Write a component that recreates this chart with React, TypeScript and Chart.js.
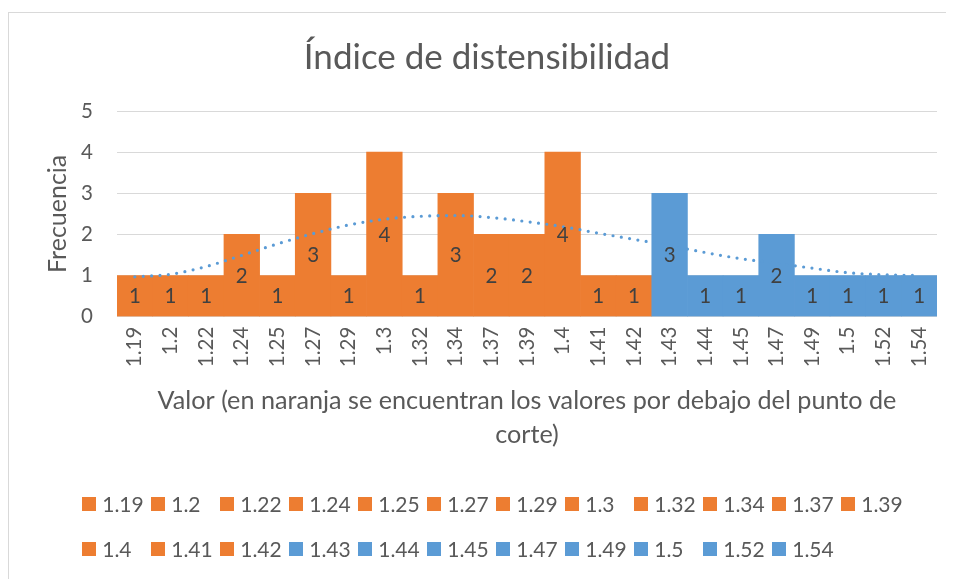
import React, { useEffect, useRef } from "react";
import { Chart, registerables } from "chart.js";

Chart.register(...registerables);

const categories = ["1.19", "1.2", "1.22", "1.24", "1.25", "1.27", "1.29", "1.3", "1.32", "1.34", "1.37", "1.39", "1.4", "1.41", "1.42", "1.43", "1.44", "1.45", "1.47", "1.49", "1.5", "1.52", "1.54"];
const frequencies = [1, 1, 1, 2, 1, 3, 1, 4, 1, 3, 2, 2, 4, 1, 1, 3, 1, 1, 2, 1, 1, 1, 1];
const trendValues = [0.97, 1.03, 1.22, 1.49, 1.77, 2.02, 2.23, 2.37, 2.44, 2.46, 2.41, 2.31, 2.19, 2.03, 1.88, 1.73, 1.56, 1.41, 1.3, 1.18, 1.07, 1.02, 1.0];
const cutoffValue = 1.43;
const yTickValues = [0, 1, 2, 3, 4, 5];

const ORANGE = "#ED7D31";
const BLUE = "#5B9BD5";
const TEXT = "#595959";
const FONT = "Lato, 'Open Sans', sans-serif";

const barColors = categories.map((c) => (parseFloat(c) < cutoffValue ? ORANGE : BLUE));

const dataLabelPlugin = {
  id: "barValueLabels",
  afterDatasetsDraw(chart: any) {
    const idx = chart.data.datasets.findIndex((d: any) => d.type === "bar");
    const meta = chart.getDatasetMeta(idx);
    const values = chart.data.datasets[idx].data;
    const ctx = chart.ctx;
    ctx.save();
    ctx.font = `20.5px ${FONT}`;
    ctx.fillStyle = "#404040";
    ctx.textAlign = "center";
    ctx.textBaseline = "middle";
    meta.data.forEach((el: any, i: number) => {
      const p = el.getProps(["x", "y", "base"], true);
      ctx.fillText(String(values[i]), p.x, (p.y + p.base) / 2 + 1);
    });
    ctx.restore();
  },
};

const gridLegendPlugin = {
  id: "gridLegend",
  afterDraw(chart: any) {
    const ctx = chart.ctx;
    const perRow = 12;
    const startX = 73;
    const pitch = 69;
    const rowY = [491, 536];
    const box = 14;
    ctx.save();
    ctx.font = `21px ${FONT}`;
    ctx.textBaseline = "middle";
    ctx.textAlign = "left";
    categories.forEach((c, i) => {
      const row = Math.floor(i / perRow);
      const col = i % perRow;
      const x = startX + col * pitch;
      const y = rowY[row];
      ctx.fillStyle = barColors[i];
      ctx.fillRect(x, y - box / 2, box, box);
      ctx.fillStyle = TEXT;
      ctx.fillText(c, x + box + 6.2, y + 1.5);
    });
    ctx.restore();
  },
};

export default function App() {
  const canvasRef = useRef<HTMLCanvasElement | null>(null);

  useEffect(() => {
    document.documentElement.style.overflow = "hidden";
    document.body.style.overflow = "hidden";
    const canvas = canvasRef.current;
    if (!canvas) return;
    const chart = new Chart(canvas, {
      type: "bar",
      data: {
        labels: categories,
        datasets: [
          {
            type: "line",
            label: "Tendencia",
            data: trendValues,
            borderColor: BLUE,
            borderWidth: 3.2,
            borderDash: [0, 8.4],
            borderCapStyle: "round",
            tension: 0.4,
            cubicInterpolationMode: "monotone",
            pointRadius: 0,
            fill: false,
            order: 1,
          } as any,
          {
            type: "bar",
            label: "Frecuencia",
            data: frequencies,
            backgroundColor: barColors,
            borderWidth: 0,
            categoryPercentage: 1,
            barPercentage: 1,
            order: 2,
          } as any,
        ],
      },
      options: {
        responsive: false,
        animation: false,
        devicePixelRatio: 1,
        layout: { padding: { left: 28, right: 30, top: 0, bottom: 127.6 } },
        plugins: {
          legend: { display: false },
          tooltip: { enabled: false },
          title: {
            display: true,
            text: "Índice de distensibilidad",
            color: TEXT,
            font: { family: FONT, size: 35, weight: "normal", lineHeight: 1.2 },
            padding: { top: 24, bottom: 32 },
          },
        },
        scales: {
          x: {
            grid: { display: false, drawTicks: false },
            border: { display: false },
            ticks: {
              color: TEXT,
              font: { family: FONT, size: 20.5 },
              minRotation: 90,
              maxRotation: 90,
              autoSkip: false,
              padding: 10,
            },
            title: {
              display: true,
              text: ["Valor (en naranja se encuentran los valores por debajo del punto de", "corte)"],
              color: TEXT,
              font: { family: FONT, size: 25.2, lineHeight: "33.4px" },
              padding: { top: 0, bottom: 0 },
            },
            afterFit: (scale: any) => {
              scale.height = 134.7;
            },
          },
          y: {
            min: 0,
            max: 5,
            afterBuildTicks: (scale: any) => {
              scale.ticks = yTickValues.map((v) => ({ value: v }));
            },
            grid: { color: "#D9D9D9", lineWidth: 1, drawTicks: false },
            border: { display: false },
            ticks: {
              color: TEXT,
              font: { family: FONT, size: 20.5 },
              padding: 24,
            },
            title: {
              display: true,
              text: "Frecuencia",
              color: TEXT,
              font: { family: FONT, size: 25, lineHeight: 1.2 },
              padding: { top: 6, bottom: 0 },
            },
            afterFit: (scale: any) => {
              scale.width = 80;
            },
          },
        },
      },
      plugins: [dataLabelPlugin, gridLegendPlugin],
    });
    return () => {
      chart.destroy();
    };
  }, []);

  return (
    <div
      style={{
        boxSizing: "border-box",
        width: 946,
        height: 567,
        marginTop: 4,
        borderTop: "1px solid #D9D9D9",
        borderLeft: "1px solid #D9D9D9",
        overflow: "hidden",
        background: "#fff",
      }}
    >
      <canvas ref={canvasRef} width={958} height={566} style={{ display: "block" }} />
    </div>
  );
}
